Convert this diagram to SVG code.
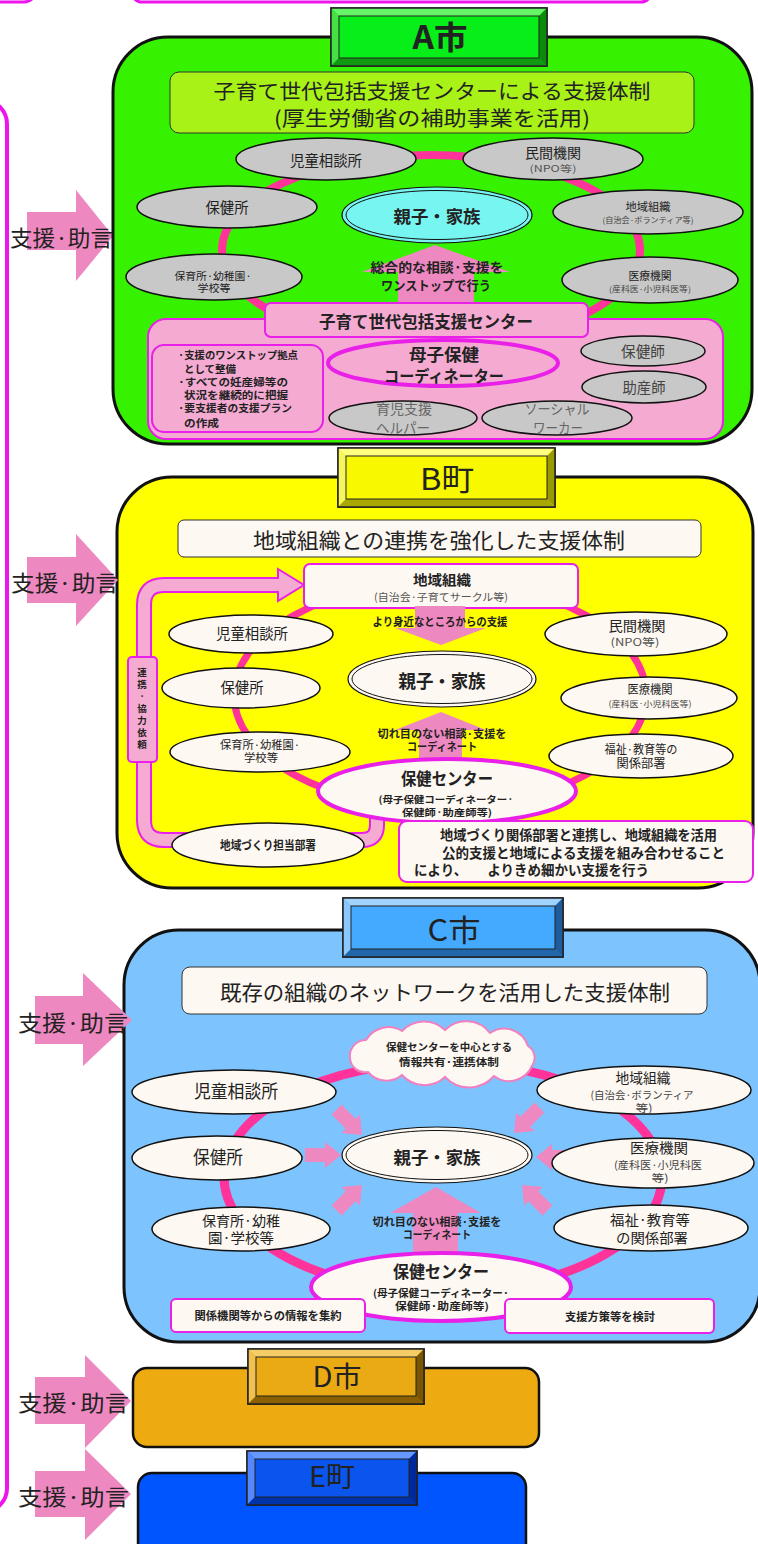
<svg xmlns="http://www.w3.org/2000/svg" width="758" height="1544" viewBox="0 0 758 1544">
<style>
text{font-family:"Noto Sans CJK JP","Noto Sans CJK SC",sans-serif;fill:#222;text-anchor:middle}
.b{font-weight:bold}
.l{text-anchor:start}
.gy{fill:#C8C8C8;stroke:#111;stroke-width:1.5}
.ow{fill:#FDF8F2;stroke:#111;stroke-width:1.5}
.ring{fill:none;stroke:#FF3399}
.arr{fill:#EE88C0}
.pk{fill:#F5AAD2;stroke:#E820E8;stroke-width:2}
.owm{fill:#FDF8F2;stroke:#E820E8;stroke-width:2}
.big{stroke:#111;stroke-width:3}
.hd{stroke:#222;stroke-width:1.5}
.ttl{stroke:#333;stroke-width:1}
</style>
<defs>
<polygon id="sa" points="-36,-7 -16,-7 -16,-13 0,0 -16,13 -16,7 -36,7" class="arr"/>
</defs>

<!-- top partial boxes and bracket -->
<g id="frame">
<rect x="-40" y="-40" width="76" height="42" rx="12" fill="#fff" stroke="#EE14EE" stroke-width="3"/>
<rect x="132" y="-40" width="519" height="42" rx="10" fill="#fff" stroke="#EE14EE" stroke-width="3"/>
<rect x="-40" y="100" width="47" height="1412" rx="24" fill="none" stroke="#EE14EE" stroke-width="4"/>
</g>

<g id="supportA">
<polygon class="arr" points="27,212 76,212 76,190 113,236 76,281 76,250 27,250"/>
<text x="10" y="246" class="l" font-size="22" textLength="103" lengthAdjust="spacingAndGlyphs">支援·助言</text>
</g>

<!-- ================= A ================= -->
<g id="cityA">
<rect x="113" y="37" width="639" height="407" rx="55" fill="#36F200" class="big"/>
<g id="titleA">
<rect x="170" y="72" width="524" height="61" rx="9" fill="#A8F218" class="ttl"/>
<text x="432" y="99" font-size="20.5" textLength="437" lengthAdjust="spacingAndGlyphs">子育て世代包括支援センターによる支援体制</text>
<text x="432" y="126" font-size="20.5" textLength="316" lengthAdjust="spacingAndGlyphs">(厚生労働省の補助事業を活用)</text>
</g>
<ellipse cx="431" cy="250" rx="209" ry="95" class="ring" stroke-width="8"/>
<g id="arrowA">
<polygon class="arr" points="435,245 510,272 474,272 474,310 398,310 398,272 362,272"/>
<text x="437" y="272" class="b" font-size="13" textLength="133" lengthAdjust="spacingAndGlyphs">総合的な相談·支援を</text>
<text x="436" y="290" class="b" font-size="13" textLength="110" lengthAdjust="spacingAndGlyphs">ワンストップで行う</text>
</g>
<g id="A_jido"><ellipse cx="326" cy="159" rx="90" ry="21" class="gy"/>
<text x="326" y="166" font-size="15" textLength="72" lengthAdjust="spacingAndGlyphs">児童相談所</text></g>
<g id="A_minkan"><ellipse cx="553" cy="159" rx="90" ry="21" class="gy"/>
<text x="553" y="158" font-size="13.5" textLength="56" lengthAdjust="spacingAndGlyphs">民間機関</text>
<text x="553" y="172" font-size="9.5" style="fill:#555" textLength="47" lengthAdjust="spacingAndGlyphs">(NPO等)</text></g>
<g id="A_hokenjo"><ellipse cx="227" cy="207" rx="90" ry="21" class="gy"/>
<text x="227" y="213" font-size="15" textLength="43" lengthAdjust="spacingAndGlyphs">保健所</text></g>
<g id="A_chiiki"><ellipse cx="648" cy="212" rx="95" ry="22" class="gy"/>
<text x="648" y="211" font-size="11.5" textLength="45" lengthAdjust="spacingAndGlyphs">地域組織</text>
<text x="648" y="223" font-size="8" style="fill:#444" textLength="91" lengthAdjust="spacingAndGlyphs">(自治会·ボランティア等)</text></g>
<g id="A_hoiku"><ellipse cx="214" cy="277" rx="88" ry="23" class="gy"/>
<text x="213" y="280" font-size="10.5" textLength="77" lengthAdjust="spacingAndGlyphs">保育所·幼稚園·</text>
<text x="214" y="292" font-size="10.5" textLength="33" lengthAdjust="spacingAndGlyphs">学校等</text></g>
<g id="A_iryo"><ellipse cx="650" cy="280" rx="88" ry="23" class="gy"/>
<text x="650" y="280" font-size="11.5" textLength="43" lengthAdjust="spacingAndGlyphs">医療機関</text>
<text x="650" y="292" font-size="8" style="fill:#444" textLength="82" lengthAdjust="spacingAndGlyphs">(産科医·小児科医等)</text></g>
<g id="A_family"><ellipse cx="437" cy="215" rx="95" ry="28" fill="#77F5F0" stroke="#111" stroke-width="1.2"/>
<ellipse cx="437" cy="215" rx="91" ry="24.5" fill="none" stroke="#111" stroke-width="1"/>
<text x="437" y="223" class="b" font-size="17" textLength="87" lengthAdjust="spacingAndGlyphs">親子・家族</text></g>
<g id="A_center">
<rect x="148" y="319" width="575" height="120" rx="18" class="pk"/>
<rect x="265" y="303" width="323" height="34" rx="6" class="pk"/>
<text x="426" y="328" class="b" font-size="16.5" textLength="214" lengthAdjust="spacingAndGlyphs">子育て世代包括支援センター</text>
<rect x="152" y="345" width="171" height="87" rx="12" class="pk"/>
<text x="178" y="359" class="b l" font-size="10.5" textLength="120" lengthAdjust="spacingAndGlyphs">·支援のワンストップ拠点</text>
<text x="184" y="373" class="b l" font-size="10.5" textLength="52" lengthAdjust="spacingAndGlyphs">として整備</text>
<text x="178" y="386" class="b l" font-size="10.5" textLength="110" lengthAdjust="spacingAndGlyphs">·すべての妊産婦等の</text>
<text x="184" y="399" class="b l" font-size="10.5" textLength="104" lengthAdjust="spacingAndGlyphs">状況を継続的に把握</text>
<text x="178" y="412" class="b l" font-size="10.5" textLength="114" lengthAdjust="spacingAndGlyphs">·要支援者の支援プラン</text>
<text x="184" y="427" class="b l" font-size="10.5" textLength="35" lengthAdjust="spacingAndGlyphs">の作成</text>
<ellipse cx="443" cy="363" rx="115" ry="23" fill="#F5AAD2" stroke="#E820E8" stroke-width="4"/>
<text x="444" y="361" class="b" font-size="17" textLength="70" lengthAdjust="spacingAndGlyphs">母子保健</text>
<text x="444" y="382" class="b" font-size="16" textLength="120" lengthAdjust="spacingAndGlyphs">コーディネーター</text>
<ellipse cx="643" cy="351" rx="62" ry="15" class="gy"/>
<text x="643" y="357" font-size="15" style="fill:#444" textLength="44" lengthAdjust="spacingAndGlyphs">保健師</text>
<ellipse cx="644" cy="387" rx="62" ry="16" class="gy"/>
<text x="644" y="393" font-size="15" style="fill:#444" textLength="43" lengthAdjust="spacingAndGlyphs">助産師</text>
<ellipse cx="403" cy="418" rx="74" ry="17" class="gy"/>
<text x="404" y="414" font-size="14" style="fill:#666" textLength="56" lengthAdjust="spacingAndGlyphs">育児支援</text>
<text x="403" y="433" font-size="14" style="fill:#666" textLength="54" lengthAdjust="spacingAndGlyphs">ヘルパー</text>
<ellipse cx="557" cy="418" rx="75" ry="17" class="gy"/>
<text x="557" y="414" font-size="14" style="fill:#666" textLength="65" lengthAdjust="spacingAndGlyphs">ソーシャル</text>
<text x="558" y="433" font-size="14" style="fill:#666" textLength="50" lengthAdjust="spacingAndGlyphs">ワーカー</text>
</g>
<g id="headerA">
<rect x="331" y="8" width="216" height="58" fill="#00DD11" class="hd"/>
<polygon points="331,8 547,8 539,16 339,16" fill="#66F566"/>
<polygon points="331,8 339,16 339,58 331,66" fill="#44E044"/>
<polygon points="331,66 339,58 539,58 547,66" fill="#119911"/>
<polygon points="547,8 547,66 539,58 539,16" fill="#0C8A0C"/>
<rect x="331" y="8" width="216" height="58" fill="none" class="hd"/>
<rect x="339" y="16" width="200" height="42" fill="#08EE18" stroke="#222" stroke-width="1"/>
<text x="440" y="49" class="b" font-size="32" textLength="55" lengthAdjust="spacingAndGlyphs">A市</text>
</g>
</g>

<!-- ================= B ================= -->
<g id="townB">
<rect x="117" y="477" width="636" height="411" rx="55" fill="#FFFF00" class="big"/>
<g id="titleB">
<rect x="178" y="520" width="523" height="37" rx="6" fill="#FDF8F2" class="ttl"/>
<text x="439" y="548" font-size="21" textLength="372" lengthAdjust="spacingAndGlyphs">地域組織との連携を強化した支援体制</text>
</g>
<ellipse cx="440" cy="695" rx="206" ry="113" class="ring" stroke-width="7"/>
<g id="B_band">
<path d="M280 585 H164 Q144 585 144 605 V820 Q144 840 164 840 H362 Q377 840 377 825 V805" fill="none" stroke="#E820E8" stroke-width="16"/>
<polygon points="278,569 304,585 278,601" fill="#F5AAD2" stroke="#E820E8" stroke-width="2"/>
<path d="M281 585 H164 Q144 585 144 605 V820 Q144 840 164 840 H362 Q377 840 377 825 V805" fill="none" stroke="#F5AAD2" stroke-width="12"/>
<rect x="128" y="657" width="29" height="105" rx="4" class="pk"/>
<text x="142" y="676" class="b" font-size="9.5">連</text>
<text x="142" y="688" class="b" font-size="9.5">携</text>
<text x="142" y="700" class="b" font-size="9.5">·</text>
<text x="142" y="712" class="b" font-size="9.5">協</text>
<text x="142" y="724" class="b" font-size="9.5">力</text>
<text x="142" y="736" class="b" font-size="9.5">依</text>
<text x="142" y="748" class="b" font-size="9.5">頼</text>
</g>
<g id="B_chiiki">
<rect x="304" y="564" width="274" height="44" rx="6" class="owm"/>
<text x="442" y="585" class="b" font-size="14" textLength="58" lengthAdjust="spacingAndGlyphs">地域組織</text>
<text x="441" y="601" font-size="10.5" style="fill:#555" textLength="134" lengthAdjust="spacingAndGlyphs">(自治会·子育てサークル等)</text>
</g>
<g id="B_arrows">
<polygon class="arr" points="415,606 465,606 465,628 486,628 441,645 395,628 415,628"/>
<text x="440" y="626" class="b" font-size="11.5" textLength="135" lengthAdjust="spacingAndGlyphs">より身近なところからの支援</text>
<polygon class="arr" points="441,712 486,730 462,730 462,765 419,765 419,730 395,730"/>
<text x="442" y="738" class="b" font-size="11" textLength="129" lengthAdjust="spacingAndGlyphs">切れ目のない相談·支援を</text>
<text x="442" y="751" class="b" font-size="11" textLength="70" lengthAdjust="spacingAndGlyphs">コーディネート</text>
</g>
<g id="B_jido"><ellipse cx="251" cy="634" rx="82" ry="19" class="ow"/>
<text x="252" y="639" font-size="15" textLength="72" lengthAdjust="spacingAndGlyphs">児童相談所</text></g>
<g id="B_minkan"><ellipse cx="636" cy="634" rx="91" ry="22" class="ow"/>
<text x="637" y="631" font-size="14" textLength="57" lengthAdjust="spacingAndGlyphs">民間機関</text>
<text x="635" y="646" font-size="10.5" style="fill:#555" textLength="49" lengthAdjust="spacingAndGlyphs">(NPO等)</text></g>
<g id="B_hokenjo"><ellipse cx="241" cy="688" rx="79" ry="20" class="ow"/>
<text x="242" y="693" font-size="15" textLength="43" lengthAdjust="spacingAndGlyphs">保健所</text></g>
<g id="B_iryo"><ellipse cx="649" cy="698" rx="88" ry="21" class="ow"/>
<text x="650" y="694" font-size="12" textLength="45" lengthAdjust="spacingAndGlyphs">医療機関</text>
<text x="650" y="707" font-size="8.5" style="fill:#444" textLength="83" lengthAdjust="spacingAndGlyphs">(産科医·小児科医等)</text></g>
<g id="B_hoiku"><ellipse cx="260" cy="752" rx="90" ry="20" class="ow"/>
<text x="260" y="749" font-size="11" textLength="80" lengthAdjust="spacingAndGlyphs">保育所·幼稚園·</text>
<text x="261" y="762" font-size="11" textLength="34" lengthAdjust="spacingAndGlyphs">学校等</text></g>
<g id="B_fukushi"><ellipse cx="641" cy="756" rx="92" ry="22" class="ow"/>
<text x="641" y="754" font-size="12" textLength="73" lengthAdjust="spacingAndGlyphs">福祉·教育等の</text>
<text x="641" y="768" font-size="12" textLength="49" lengthAdjust="spacingAndGlyphs">関係部署</text></g>
<g id="B_family"><ellipse cx="442" cy="679" rx="94" ry="28" fill="#FDF8F2" stroke="#111" stroke-width="1.2"/>
<ellipse cx="442" cy="679" rx="90" ry="24.5" fill="none" stroke="#111" stroke-width="1"/>
<text x="442" y="688" class="b" font-size="18" textLength="87" lengthAdjust="spacingAndGlyphs">親子・家族</text></g>
<g id="B_hoken"><ellipse cx="447" cy="791" rx="129" ry="32" fill="#FDF8F2" stroke="#E820E8" stroke-width="4"/>
<text x="447" y="785" class="b" font-size="17" textLength="92" lengthAdjust="spacingAndGlyphs">保健センター</text>
<text x="446" y="803" class="b" font-size="9.5" textLength="135" lengthAdjust="spacingAndGlyphs">(母子保健コーディネーター·</text>
<text x="447" y="816" class="b" font-size="9.5" textLength="90" lengthAdjust="spacingAndGlyphs">保健師·助産師等)</text></g>
<g id="B_zukuri"><ellipse cx="268" cy="845" rx="96" ry="22" class="ow"/>
<text x="268" y="850" class="b" font-size="12" textLength="96" lengthAdjust="spacingAndGlyphs">地域づくり担当部署</text></g>
<g id="B_note">
<rect x="399" y="821" width="354" height="61" rx="8" class="owm"/>
<text x="440" y="840" class="b l" font-size="13.5" textLength="277" lengthAdjust="spacingAndGlyphs">地域づくり関係部署と連携し、地域組織を活用</text>
<text x="442" y="858" class="b l" font-size="13.5" textLength="283" lengthAdjust="spacingAndGlyphs">公的支援と地域による支援を組み合わせること</text>
<text x="414" y="875" class="b l" font-size="13.5" textLength="235" lengthAdjust="spacingAndGlyphs">により、　　よりきめ細かい支援を行う</text>
</g>
<g id="headerB">
<rect x="338" y="448" width="217" height="59" fill="#EEEE00" class="hd"/>
<polygon points="338,448 555,448 547,456 346,456" fill="#FFFF80"/>
<polygon points="338,448 346,456 346,499 338,507" fill="#F5F560"/>
<polygon points="338,507 346,499 547,499 555,507" fill="#A8A800"/>
<polygon points="555,448 555,507 547,499 547,456" fill="#999900"/>
<rect x="338" y="448" width="217" height="59" fill="none" class="hd"/>
<rect x="346" y="456" width="201" height="43" fill="#F8F800" stroke="#222" stroke-width="1"/>
<text x="447" y="490" font-size="30" textLength="54" lengthAdjust="spacingAndGlyphs">B町</text>
</g>
</g>

<!-- ================= C ================= -->
<g id="cityC">
<rect x="124" y="930" width="636" height="412" rx="55" fill="#7DC4FF" class="big"/>
<g id="titleC">
<rect x="182" y="967" width="525" height="47" rx="8" fill="#FDF8F2" class="ttl"/>
<text x="445" y="1000" font-size="21" textLength="450" lengthAdjust="spacingAndGlyphs">既存の組織のネットワークを活用した支援体制</text>
</g>
<ellipse cx="443" cy="1177" rx="219" ry="115" class="ring" stroke-width="9"/>
<g id="C_cloud">
<path d="M368 1072 A15 15 0 0 1 350 1058 A16 16 0 0 1 366 1040 A26 26 0 0 1 402 1031 A30 30 0 0 1 445 1030 A30 30 0 0 1 490 1033 A25 25 0 0 1 528 1046 A14 14 0 0 1 532 1066 A25 25 0 0 1 494 1076 A33 33 0 0 1 445 1077 A30 30 0 0 1 402 1075 A24 24 0 0 1 368 1072 Z" fill="#FDF8F2" stroke="#F080C0" stroke-width="2"/>
<text x="449" y="1051" class="b" font-size="10" textLength="126" lengthAdjust="spacingAndGlyphs">保健センターを中心とする</text>
<text x="449" y="1066" class="b" font-size="10" textLength="100" lengthAdjust="spacingAndGlyphs">情報共有·連携体制</text>
</g>
<g id="C_arrows">
<use href="#sa" transform="translate(362,1135) rotate(45)"/>
<use href="#sa" transform="translate(341,1155)"/>
<use href="#sa" transform="translate(362,1185) rotate(-45)"/>
<use href="#sa" transform="translate(514,1133) rotate(135)"/>
<use href="#sa" transform="translate(536,1157) rotate(180)"/>
<use href="#sa" transform="translate(522,1185) rotate(-135)"/>
<polygon class="arr" points="436,1187 481,1213 458,1213 458,1262 413,1262 413,1213 390,1213"/>
<text x="437" y="1226" class="b" font-size="11" textLength="129" lengthAdjust="spacingAndGlyphs">切れ目のない相談·支援を</text>
<text x="437" y="1239" class="b" font-size="11" textLength="68" lengthAdjust="spacingAndGlyphs">コーディネート</text>
</g>
<g id="C_jido"><ellipse cx="234" cy="1092" rx="102" ry="22" class="ow"/>
<text x="236" y="1098" font-size="18" textLength="84" lengthAdjust="spacingAndGlyphs">児童相談所</text></g>
<g id="C_chiiki"><ellipse cx="644" cy="1090" rx="107" ry="24" class="ow"/>
<text x="643" y="1083" font-size="13.5" textLength="55" lengthAdjust="spacingAndGlyphs">地域組織</text>
<text x="642" y="1099" font-size="10.5" style="fill:#444" textLength="103" lengthAdjust="spacingAndGlyphs">(自治会·ボランティア</text>
<text x="644" y="1112" font-size="10.5" style="fill:#444" textLength="17" lengthAdjust="spacingAndGlyphs">等)</text></g>
<g id="C_hokenjo"><ellipse cx="217" cy="1158" rx="85" ry="22" class="ow"/>
<text x="218" y="1164" font-size="18" textLength="50" lengthAdjust="spacingAndGlyphs">保健所</text></g>
<g id="C_iryo"><ellipse cx="653" cy="1163" rx="101" ry="25" class="ow"/>
<text x="659" y="1153" font-size="13.5" textLength="58" lengthAdjust="spacingAndGlyphs">医療機関</text>
<text x="658" y="1169" font-size="10.5" style="fill:#444" textLength="88" lengthAdjust="spacingAndGlyphs">(産科医·小児科医</text>
<text x="660" y="1182" font-size="10.5" style="fill:#444" textLength="17" lengthAdjust="spacingAndGlyphs">等)</text></g>
<g id="C_hoiku"><ellipse cx="241" cy="1229" rx="89" ry="22" class="ow"/>
<text x="241" y="1226" font-size="13.5" textLength="78" lengthAdjust="spacingAndGlyphs">保育所·幼稚</text>
<text x="241" y="1243" font-size="13.5" textLength="66" lengthAdjust="spacingAndGlyphs">園·学校等</text></g>
<g id="C_fukushi"><ellipse cx="651" cy="1228" rx="97" ry="23" class="ow"/>
<text x="650" y="1225" font-size="14" textLength="80" lengthAdjust="spacingAndGlyphs">福祉·教育等</text>
<text x="652" y="1243" font-size="14" textLength="72" lengthAdjust="spacingAndGlyphs">の関係部署</text></g>
<g id="C_family"><ellipse cx="437" cy="1155" rx="95" ry="28" fill="#FDF8F2" stroke="#111" stroke-width="1.2"/>
<ellipse cx="437" cy="1155" rx="91" ry="24.5" fill="none" stroke="#111" stroke-width="1"/>
<text x="437" y="1164" class="b" font-size="17" textLength="87" lengthAdjust="spacingAndGlyphs">親子・家族</text></g>
<g id="C_hoken"><ellipse cx="441" cy="1287" rx="130" ry="34" fill="#FDF8F2" stroke="#E820E8" stroke-width="4"/>
<text x="441" y="1278" class="b" font-size="17" textLength="96" lengthAdjust="spacingAndGlyphs">保健センター</text>
<text x="441" y="1297" class="b" font-size="10" textLength="136" lengthAdjust="spacingAndGlyphs">(母子保健コーディネーター·</text>
<text x="442" y="1310" class="b" font-size="10" textLength="94" lengthAdjust="spacingAndGlyphs">保健師·助産師等)</text></g>
<g id="C_box1"><rect x="171" y="1299" width="194" height="33" rx="5" class="owm"/>
<text x="268" y="1320" class="b" font-size="11" textLength="147" lengthAdjust="spacingAndGlyphs">関係機関等からの情報を集約</text></g>
<g id="C_box2"><rect x="505" y="1299" width="209" height="34" rx="5" class="owm"/>
<text x="610" y="1321" class="b" font-size="11" textLength="90" lengthAdjust="spacingAndGlyphs">支援方策等を検討</text></g>
<g id="headerC">
<rect x="343" y="898" width="220" height="59" fill="#3399EE" class="hd"/>
<polygon points="343,898 563,898 555,906 351,906" fill="#A0D4FF"/>
<polygon points="343,898 351,906 351,949 343,957" fill="#88C8FF"/>
<polygon points="343,957 351,949 555,949 563,957" fill="#2266AA"/>
<polygon points="563,898 563,957 555,949 555,906" fill="#1E5C9C"/>
<rect x="343" y="898" width="220" height="59" fill="none" class="hd"/>
<rect x="351" y="906" width="204" height="43" fill="#44AAFF" stroke="#222" stroke-width="1"/>
<text x="454" y="941" font-size="30" textLength="53" lengthAdjust="spacingAndGlyphs">C市</text>
</g>
</g>

<!-- ================= D / E ================= -->
<g id="cityD">
<rect x="133" y="1368" width="406" height="79" rx="14" fill="#EEAA11" stroke="#111" stroke-width="2.5"/>
<g id="headerD">
<rect x="248" y="1349" width="176" height="55" fill="#D89A10" class="hd"/>
<polygon points="248,1349 424,1349 416,1357 256,1357" fill="#F5CC66"/>
<polygon points="248,1349 256,1357 256,1396 248,1404" fill="#F0C050"/>
<polygon points="248,1404 256,1396 416,1396 424,1404" fill="#8A6000"/>
<polygon points="424,1349 424,1404 416,1396 416,1357" fill="#7A5500"/>
<rect x="248" y="1349" width="176" height="55" fill="none" class="hd"/>
<rect x="256" y="1357" width="160" height="39" fill="#EAAA14" stroke="#222" stroke-width="1"/>
<text x="337" y="1387" font-size="28" textLength="49" lengthAdjust="spacingAndGlyphs">D市</text>
</g>
</g>
<g id="townE">
<rect x="138" y="1473" width="388" height="90" rx="14" fill="#0055FF" stroke="#111" stroke-width="2.5"/>
<g id="headerE">
<rect x="247" y="1451" width="170" height="54" fill="#0044CC" class="hd"/>
<polygon points="247,1451 417,1451 409,1459 255,1459" fill="#6699FF"/>
<polygon points="247,1451 255,1459 255,1497 247,1505" fill="#5588FF"/>
<polygon points="247,1505 255,1497 409,1497 417,1505" fill="#0033AA"/>
<polygon points="417,1451 417,1505 409,1497 409,1459" fill="#002A99"/>
<rect x="247" y="1451" width="170" height="54" fill="none" class="hd"/>
<rect x="255" y="1459" width="154" height="38" fill="#0A55EE" stroke="#222" stroke-width="1"/>
<text x="332" y="1487" font-size="28" textLength="46" lengthAdjust="spacingAndGlyphs">E町</text>
</g>
</g>

<g id="supportBCDE">
<polygon class="arr" points="27,557 76,557 76,534 118,580 76,626 76,603 27,603"/>
<text x="11" y="591" class="l" font-size="22" textLength="108" lengthAdjust="spacingAndGlyphs">支援·助言</text>
<polygon class="arr" points="35,996 83,996 83,973 132,1020 83,1066 83,1044 35,1044"/>
<text x="18" y="1031" class="l" font-size="22" textLength="110" lengthAdjust="spacingAndGlyphs">支援·助言</text>
<polygon class="arr" points="35,1377 85,1377 85,1355 131,1401 85,1448 85,1424 35,1424"/>
<text x="18" y="1411" class="l" font-size="22" textLength="111" lengthAdjust="spacingAndGlyphs">支援·助言</text>
<polygon class="arr" points="35,1471 85,1471 85,1449 131,1494 85,1540 85,1517 35,1517"/>
<text x="18" y="1505" class="l" font-size="22" textLength="111" lengthAdjust="spacingAndGlyphs">支援·助言</text>
</g>
</svg>
